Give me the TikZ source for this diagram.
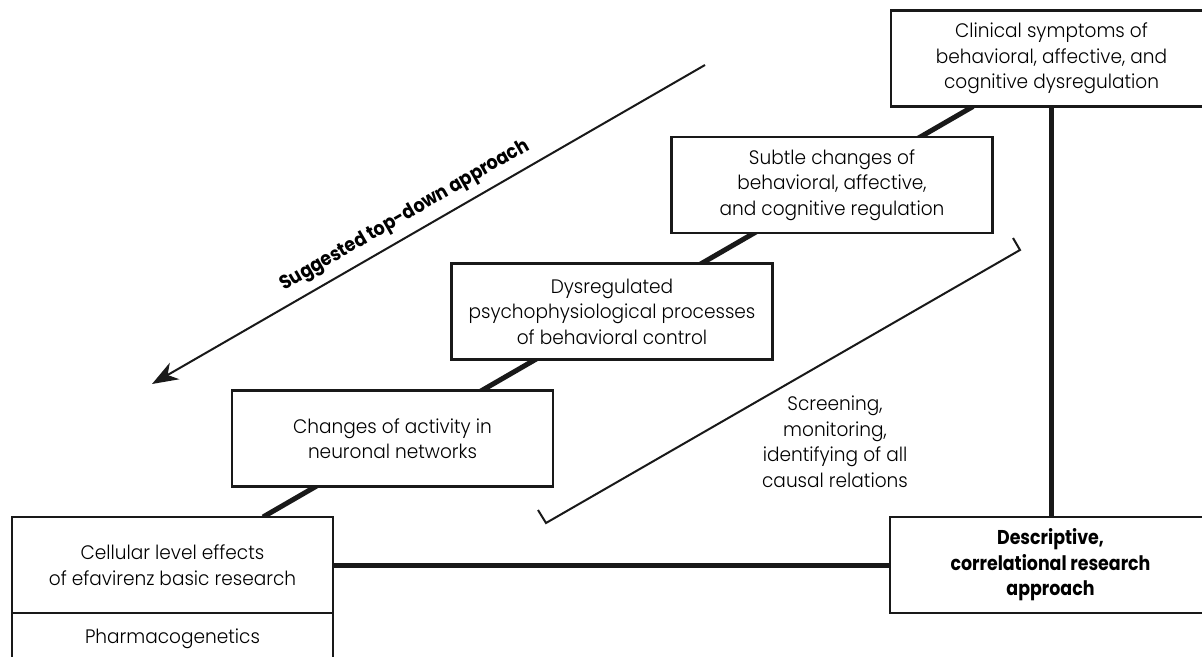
\documentclass[tikz,border=0pt]{standalone}
\usepackage{fontspec}
\setmainfont{Poppins Light}[FakeStretch=0.95]
\newfontfamily\boldc{Poppins}[FakeStretch=0.87]
\newfontfamily\boldl{Poppins}[FakeStretch=0.9]
\usetikzlibrary{arrows.meta,backgrounds,calc}
\begin{document}
\begin{tikzpicture}[x=1pt,y=-1pt,
  box/.style={draw=black!90,line width=2.4pt,outer sep=0pt,fill=white,minimum width=321pt,minimum height=96pt,
    align=center,inner sep=0pt,font=\fontsize{19.5}{25.5}\selectfont},
  thickline/.style={line width=5pt,draw=black!90},
  thinline/.style={line width=2pt,draw=black!90},
  lbl/.style={align=center,font=\fontsize{19.5}{25.5}\selectfont}]
\useasboundingbox (0,0) rectangle (1202,656);
\node[box] (clin) at (1051.5,58.5) {Clinical symptoms of\\behavioral, affective, and\\cognitive dysregulation};
\node[box] (subtle) at (832,185) {Subtle changes of\\behavioral, affective,\\and cognitive regulation};
\node[box] (dys) at (612,311.5) {Dysregulated\\psychophysiological processes\\of behavioral control};
\node[box] (chg) at (392.5,438.5) {Changes of activity in\\neuronal networks};
\node[box] (cell) at (172.5,565) {Cellular level effects\\of efavirenz basic research};
\node[box,minimum height=51pt,anchor=north] (pharm) at (cell.south) {Pharmacogenetics};
\node[box,font=\boldc\bfseries\fontsize{20}{25.5}\selectfont] (desc) at (1050.5,565) {Descriptive,\\correlational research\\approach};
\node[lbl] (screen) at (835,441.5) {Screening,\\monitoring,\\identifying of all\\causal relations};
\begin{scope}[on background layer]
\draw[thickline] ([xshift=82pt]clin.south west) -- ([xshift=251pt]cell.north west);
\end{scope}
\draw[thickline] (clin.south) -- (clin.south |- desc.north);
\draw[thickline] (cell.east) -- (desc.west);
\coordinate (arrS) at (705,65);
\coordinate (arrE) at (152,384);
\draw[thinline,-{Stealth[length=26pt,width=19pt,inset=8pt]}] (arrS) -- (arrE)
  node[pos=0.525,sloped,above,inner sep=8pt,font=\boldl\bfseries\fontsize{19.5}{22}\selectfont] (apprlbl) {Suggested top-down approach};
\coordinate (bA) at (538,510);
\coordinate (bB) at (546,523);
\coordinate (bC) at (1020,250);
\coordinate (bD) at (1013,238);
\draw[thinline] (bA) -- (bB) -- (bC) -- (bD);
\end{tikzpicture}
\end{document}
